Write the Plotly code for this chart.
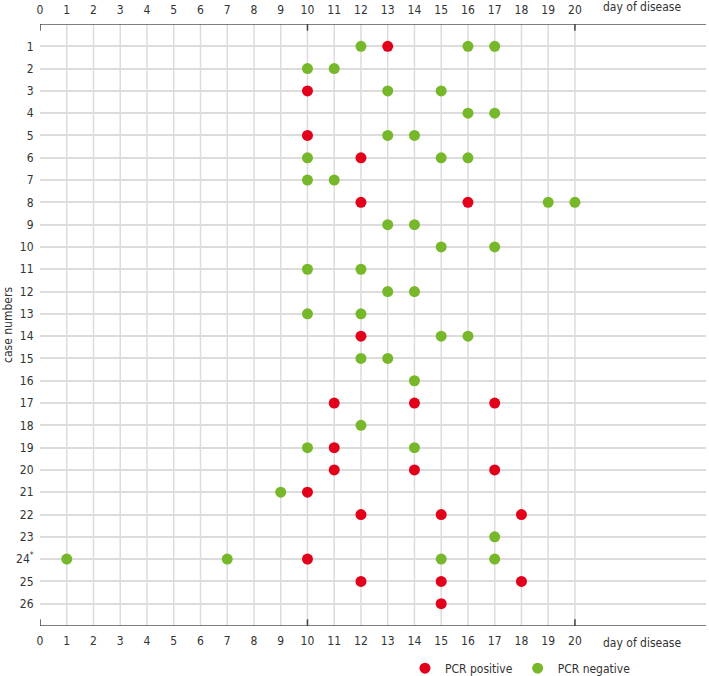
import plotly.graph_objects as go

cases = list(range(1, 27))
case_labels = [str(c) for c in cases]
case_labels[23] = "24<sup>*</sup>"

positive_days = {
    1: [13], 3: [10], 5: [10], 6: [12], 8: [12, 16], 14: [12],
    17: [11, 14, 17], 19: [11], 20: [11, 14, 17], 21: [10],
    22: [12, 15, 18], 24: [10], 25: [12, 15, 18], 26: [15],
}
negative_days = {
    1: [12, 16, 17], 2: [10, 11], 3: [13, 15], 4: [16, 17], 5: [13, 14],
    6: [10, 15, 16], 7: [10, 11], 8: [19, 20], 9: [13, 14], 10: [15, 17],
    11: [10, 12], 12: [13, 14], 13: [10, 12], 14: [15, 16], 15: [12, 13],
    16: [14], 18: [12], 19: [10, 14], 21: [9], 23: [17], 24: [1, 7, 15, 17],
}
day_ticks = list(range(0, 21))
grid_days = list(range(1, 21))
major_days = [0, 10, 20]

RED = "#e2001a"
GREEN = "#76b82a"
FONT = "Liberation Sans Narrow, Arial Narrow, DejaVu Sans Condensed, sans-serif"

def flatten(d):
    xs, ys = [], []
    for c in cases:
        for day in d.get(c, []):
            xs.append(day)
            ys.append(c)
    return xs, ys

px_, py_ = flatten(positive_days)
nx_, ny_ = flatten(negative_days)

fig = go.Figure()
fig.add_trace(go.Scatter(x=px_, y=py_, mode="markers", name="PCR positive",
                         marker=dict(color=RED, size=11), xaxis="x", yaxis="y"))
fig.add_trace(go.Scatter(x=nx_, y=ny_, mode="markers", name="PCR negative",
                         marker=dict(color=GREEN, size=11), xaxis="x", yaxis="y"))
fig.add_trace(go.Scatter(x=[0], y=[0], mode="markers", marker=dict(opacity=0),
                         showlegend=False, hoverinfo="skip", xaxis="x2", yaxis="y"))

shapes = []
for d in grid_days:
    shapes.append(dict(type="line", xref="x", yref="y", x0=d, x1=d, y0=0, y1=27,
                       line=dict(color="#dcdcdc", width=1.5), layer="below"))
for yv in [0, 27]:
    shapes.append(dict(type="line", xref="paper", yref="y", x0=0, x1=1, y0=yv, y1=yv,
                       line=dict(color="#555555", width=1.5)))
    for d in major_days:
        shapes.append(dict(type="line", xref="x", yref="y", x0=d, x1=d,
                           y0=yv - 0.3, y1=yv + 0.3,
                           line=dict(color="#444444", width=1.5)))

axis_font = dict(family=FONT, size=12, color="#333333")
fig.update_layout(
    width=709, height=676,
    margin=dict(l=40, r=3, t=24, b=50, autoexpand=False),
    paper_bgcolor="white", plot_bgcolor="white",
    font=axis_font,
    shapes=shapes,
    xaxis=dict(range=[0, 24.9], tickvals=day_ticks, ticktext=[str(t) for t in day_ticks],
               showgrid=False, zeroline=False, showline=False, automargin=False,
               ticks="outside", ticklen=4, tickcolor="rgba(0,0,0,0)", tickfont=axis_font),
    xaxis2=dict(range=[0, 24.9], overlaying="x", side="top", tickvals=day_ticks,
                ticktext=[str(t) for t in day_ticks], showgrid=False, zeroline=False,
                showline=False, automargin=False, ticks="outside", ticklen=4,
                tickcolor="rgba(0,0,0,0)", tickfont=axis_font),
    yaxis=dict(range=[27, 0], tickvals=cases, ticktext=case_labels, automargin=False,
               showgrid=True, gridcolor="#dcdcdc", gridwidth=1.5, zeroline=False,
               showline=False, ticks="outside", ticklen=3, tickcolor="rgba(0,0,0,0)",
               tickfont=axis_font),
    legend=dict(orientation="h", x=0.548, y=-0.07, xanchor="left", yanchor="middle",
                font=axis_font, itemwidth=30),
    annotations=[
        dict(text="day of disease", x=22.5, y=1, xref="x", yref="paper",
             yanchor="middle", yshift=17, showarrow=False, font=axis_font),
        dict(text="day of disease", x=22.5, y=0, xref="x", yref="paper",
             yanchor="middle", yshift=-17, showarrow=False, font=axis_font),
        dict(text="case numbers", x=0, y=0.5, xref="paper", yref="paper",
             xanchor="center", yanchor="middle", xshift=-32, textangle=-90,
             showarrow=False, font=axis_font),
    ],
)

fig.write_html("out.html", config={"displayModeBar": False},
               post_script="document.body.style.margin='0';document.body.style.padding='0';")
